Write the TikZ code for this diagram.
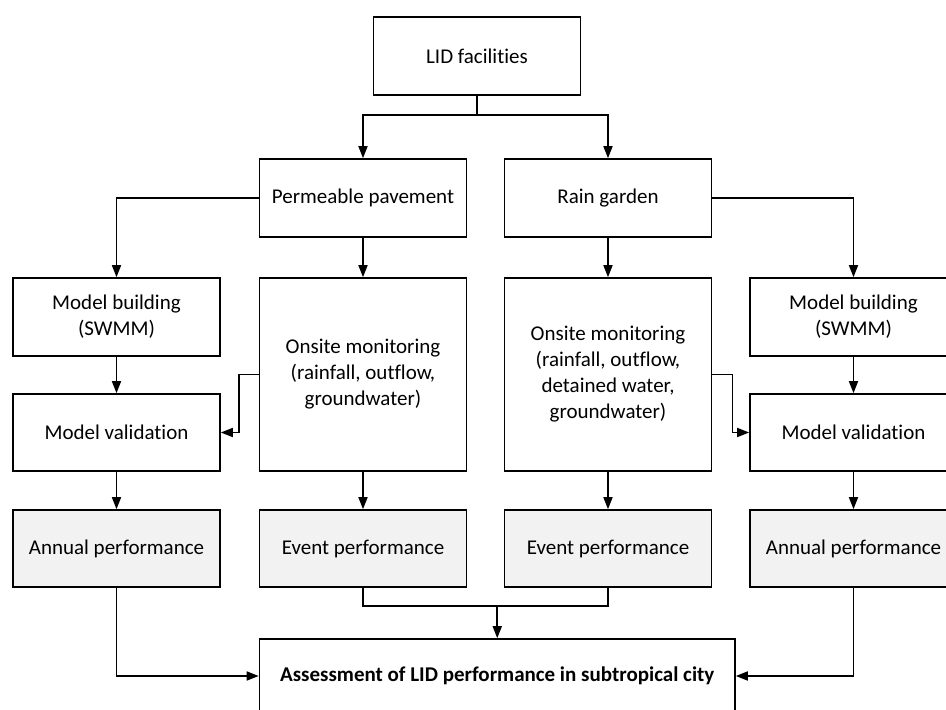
\documentclass[tikz,border=0pt]{standalone}
\usepackage{fontspec}
\setmainfont[RawFeature={-liga;-clig;-dlig;-calt;-rlig}]{Carlito}
\usetikzlibrary{arrows.meta,calc}
\begin{document}
\begin{tikzpicture}[x=1pt,y=-1pt,
  box/.style={draw,line width=1.6pt,minimum width=207pt,align=center,inner sep=0pt,
    font=\fontsize{21}{26}\selectfont},
  gbox/.style={box,fill=black!5},
  arr/.style={line width=1.6pt,-{Triangle[length=12pt,width=9pt]}},
  ln/.style={line width=1.6pt}]
\useasboundingbox (0,0) rectangle (946,710);
\node[box,minimum height=78pt] (lid) at (477,56) {LID facilities};
\node[box,minimum height=78pt] (pp) at (363,198) {Permeable pavement};
\node[box,minimum height=78pt] (rg) at (608,198) {Rain garden};
\node[box,minimum height=78pt] (mb1) at (116.5,317) {Model building\\(SWMM)};
\node[box,minimum height=78pt] (mb2) at (853.5,317) {Model building\\(SWMM)};
\node[box,minimum height=193pt] (om1) at (363,374.5) {Onsite monitoring\\(rainfall, outflow,\\groundwater)};
\node[box,minimum height=193pt] (om2) at (608,374.5) {Onsite monitoring\\(rainfall, outflow,\\detained water,\\groundwater)};
\node[box,minimum height=77pt] (mv1) at (116.5,432.5) {Model validation};
\node[box,minimum height=77pt] (mv2) at (853.5,432.5) {Model validation};
\node[gbox,minimum height=77pt] (ap1) at (116.5,548.5) {Annual performance};
\node[gbox,minimum height=77pt] (ep1) at (363,548.5) {Event performance};
\node[gbox,minimum height=77pt] (ep2) at (608,548.5) {Event performance};
\node[gbox,minimum height=77pt] (ap2) at (853.5,548.5) {Annual performance};
\node[box,minimum width=475.5pt,minimum height=74pt,font=\fontsize{21}{26}\selectfont\bfseries] (as) at (497.25,676) {Assessment of LID performance in subtropical city};
% connectors
\draw[ln] (lid.south) -- ++(0,19) coordinate (j1);
\draw[arr] (j1) -| (pp.north);
\draw[arr] (j1) -| (rg.north);
\draw[arr] (pp.west) -| (mb1.north);
\draw[arr] (rg.east) -| (mb2.north);
\draw[arr] (pp.south) -- (om1.north);
\draw[arr] (rg.south) -- (om2.north);
\draw[arr] (mb1.south) -- (mv1.north);
\draw[arr] (mb2.south) -- (mv2.north);
\draw[arr] (om1.west) -- ++(-19.5,0) |- (mv1.east);
\draw[arr] (om2.east) -- ++(20,0) |- (mv2.west);
\draw[arr] (mv1.south) -- (ap1.north);
\draw[arr] (om1.south) -- (ep1.north);
\draw[arr] (om2.south) -- (ep2.north);
\draw[arr] (mv2.south) -- (ap2.north);
\coordinate (j2) at ($(as.north)+(0,-32.3)$);
\draw[ln] (ep1.south) |- (j2) -| (ep2.south);
\draw[arr] (j2) -- (as.north);
\draw[arr] (ap1.south) |- (as.west);
\draw[arr] (ap2.south) |- (as.east);
\end{tikzpicture}
\end{document}
